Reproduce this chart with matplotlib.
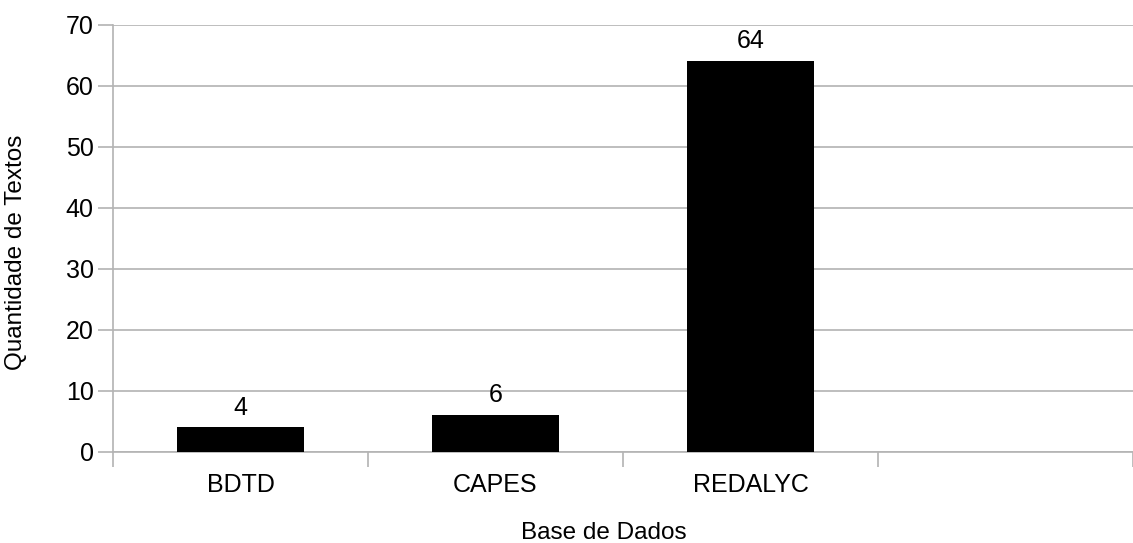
import matplotlib
matplotlib.use("Agg")
import matplotlib.pyplot as plt

categories = ["BDTD", "CAPES", "REDALYC", ""]
values = [4, 6, 64, None]
y_ticks = [0, 10, 20, 30, 40, 50, 60, 70]

plt.rcParams['font.family'] = ['Liberation Sans', 'DejaVu Sans']

W, H = 1133, 543
fig = plt.figure(figsize=(W / 100, H / 100), dpi=100)
ax = fig.add_axes([113 / W, 1 - 451.7 / H, (W - 113) / W, (451.7 - 24.5) / H])

grid_c = '#b3b3b3'
xs = list(range(len(categories)))
bx = [x for x, v in zip(xs, values) if v is not None]
bv = [v for v in values if v is not None]
bars = ax.bar(bx, bv, width=0.5, color='black', zorder=3)
for x, v in zip(bx, bv):
    ax.annotate(str(v), (x, v), xytext=(0, 5.5), textcoords='offset points',
                ha='center', va='bottom', fontsize=18, color='black')

ax.set_xlim(-0.5, -0.5 + (W - 113) / 256.0)
ax.set_ylim(0, 70)
ax.set_yticks(y_ticks)
ax.set_yticklabels([str(t) for t in y_ticks])
ax.yaxis.grid(True, color=grid_c, linewidth=1.2, zorder=0)
ax.set_axisbelow(True)

ax.set_xticks([x - 0.5 for x in xs] + [3.5])
ax.set_xticklabels([])
ax.set_xticks(xs, minor=True)
ax.set_xticklabels(categories, minor=True, fontsize=18)
ax.tick_params(axis='x', which='minor', length=0, pad=15)
ax.tick_params(axis='x', which='major', length=11, color=grid_c, width=1.2)
ax.tick_params(axis='y', length=11, color=grid_c, width=1.2, labelsize=18, pad=3)

for s in ['top', 'right']:
    ax.spines[s].set_visible(False)
for s in ['left', 'bottom']:
    ax.spines[s].set_color(grid_c)
    ax.spines[s].set_linewidth(1.2)

fig.text(604 / W, 1 - 533 / H, "Base de Dados", ha='center', va='center', fontsize=17.5)
fig.text(16 / W, 1 - 252.5 / H, "Quantidade de Textos", ha='center', va='center',
         rotation=90, fontsize=17.5)

fig.savefig("out.png", dpi=100)
